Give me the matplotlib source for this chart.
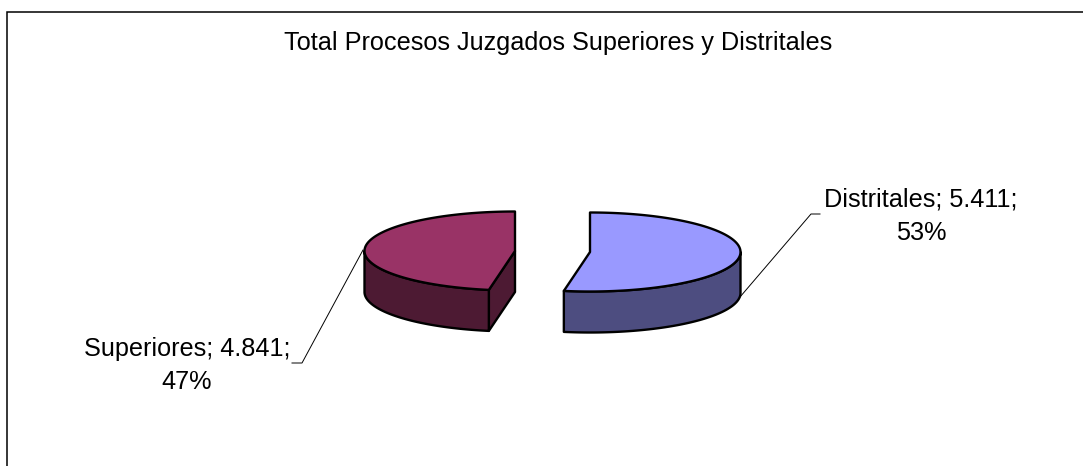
import numpy as np
import matplotlib
matplotlib.use('Agg')
import matplotlib.pyplot as plt
from matplotlib.patches import Polygon

plt.rcParams['font.family'] = ['Liberation Sans', 'DejaVu Sans']

# Chart data
categories = ['Distritales', 'Superiores']
values = [5411, 4841]
value_labels = ['5.411', '4.841']
percent_labels = ['53%', '47%']
title = 'Total Procesos Juzgados Superiores y Distritales'

top_colors = ['#9999FF', '#993366']
side_colors = ['#4D4D80', '#4D1A33']

# Pie shape, in picture pixels
centers = [(590, 252), (515, 251)]
rx = 150.5
ry = 39.5
depth = 41
font_size = 18.2

fig = plt.figure(figsize=(10.83, 4.66), dpi=100)
ax = fig.add_axes([0, 0, 1, 1])
ax.set_xlim(0, 1083)
ax.set_ylim(466, 0)
ax.axis('off')

# Chart frame: only the left and top edges show in the picture
ax.plot([6.5, 6.5, 1083], [466, 11.5, 11.5], color='black', lw=1.1, solid_joinstyle='miter')

ax.text(558, 43, title, ha='center', va='center', fontsize=font_size, color='black')


def arc(cx, cy, a0, a1):
    t = np.radians(np.linspace(a0, a1, 200))
    return np.column_stack([cx + rx * np.cos(t), cy - ry * np.sin(t)])


def draw_slice(center, a0, a1, top, side, show_cut):
    cx, cy = center
    down = np.array([0, depth])
    face = dict(edgecolor='black', lw=1.7, joinstyle='round')

    # outer wall: the part of the rim on the front of the ellipse
    lo = max(min(a0, a1), -180)
    hi = min(max(a0, a1), 0)
    rim = arc(cx, cy, lo, hi)
    ax.add_patch(Polygon(np.vstack([rim, (rim + down)[::-1]]), facecolor=side, zorder=2, **face))

    # cut face looking towards the viewer
    if show_cut:
        p = arc(cx, cy, a0, a0)[0]
        c = np.array([cx, cy])
        quad = np.array([c, p, p + down, c + down])
        ax.add_patch(Polygon(quad, facecolor=side, zorder=1.5, **face))

    # top
    rim = arc(cx, cy, a0, a1)
    ax.add_patch(Polygon(np.vstack([[cx, cy], rim]), facecolor=top, zorder=3, **face))


total = sum(values)
start = 90
for i in range(len(values)):
    end = start - values[i] / total * 360
    draw_slice(centers[i], start, end, top_colors[i], side_colors[i], i == 1)
    start = end

# Data labels with leader lines
ax.plot([740, 811, 820], [297, 214, 214], color='black', lw=0.7, zorder=1)
ax.plot([363, 302, 292], [250, 363, 363], color='black', lw=0.7, zorder=1)

ax.text(921, 200, categories[0] + '; ' + value_labels[0] + ';', ha='center', va='center', fontsize=font_size)
ax.text(921, 233, percent_labels[0], ha='center', va='center', fontsize=font_size)
ax.text(187, 349, categories[1] + '; ' + value_labels[1] + ';', ha='center', va='center', fontsize=font_size)
ax.text(187, 382, percent_labels[1], ha='center', va='center', fontsize=font_size)

fig.savefig('out.png', dpi=100, facecolor='white')
